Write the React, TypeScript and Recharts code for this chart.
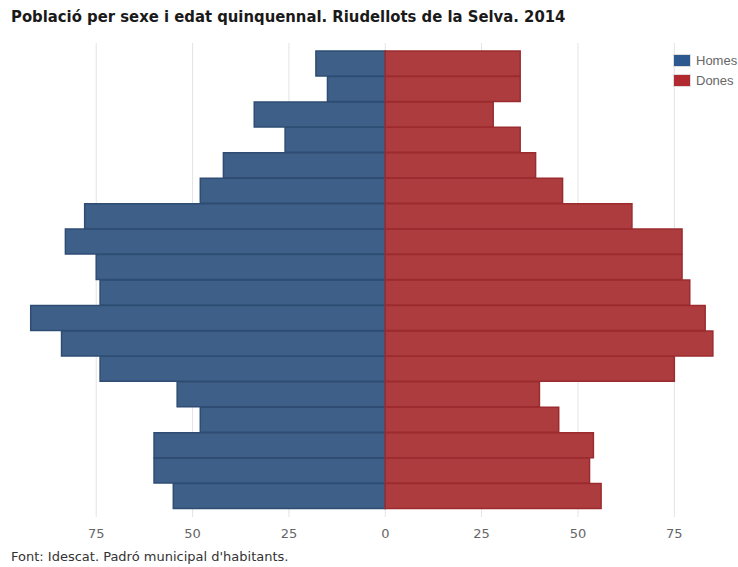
import React from 'react';
import { BarChart, Bar, XAxis, YAxis, CartesianGrid } from 'recharts';

// age groups, bottom to top
const AGES = [
  '0-4', '5-9', '10-14', '15-19', '20-24', '25-29', '30-34', '35-39', '40-44',
  '45-49', '50-54', '55-59', '60-64', '65-69', '70-74', '75-79', '80-84', '85+',
];
const HOMES = [55, 60, 60, 48, 54, 74, 84, 92, 74, 75, 83, 78, 48, 42, 26, 34, 15, 18];
const DONES = [56, 53, 54, 45, 40, 75, 85, 83, 79, 77, 77, 64, 46, 39, 35, 28, 35, 35];
const TICKS = [-75, -50, -25, 0, 25, 50, 75];

const BLUE = '#3e5f88';
const BLUE_EDGE = '#2f4d73';
const RED = '#ad3c3f';
const RED_EDGE = '#9c2b2f';

const data = AGES.map((age, i) => ({ age, homes: -HOMES[i], dones: DONES[i] }));

const FONT = '"DejaVu Sans", Verdana, sans-serif';

function LegendBox() {
  const items = [
    { label: 'Homes', color: '#2d5a8e' },
    { label: 'Dones', color: '#b02a2f' },
  ];
  return (
    <div
      style={{
        position: 'absolute',
        left: 673,
        top: 50,
        fontFamily: '"Liberation Sans", Arial, sans-serif',
        fontSize: 13,
        color: '#666',
      }}
    >
      {items.map((it) => (
        <div key={it.label} style={{ display: 'flex', alignItems: 'center', height: 20 }}>
          <span
            style={{
              width: 16,
              height: 11,
              background: it.color,
              border: '1px solid #ddd',
              marginRight: 5,
              display: 'inline-block',
            }}
          />
          <span>{it.label}</span>
        </div>
      ))}
    </div>
  );
}

export default function App() {
  return (
    <div style={{ position: 'absolute', left: 0, top: 0, width: 738, height: 567, background: '#fff' }}>
      <div
        style={{
          position: 'absolute',
          left: 11,
          top: 7,
          fontFamily: '"DejaVu Sans Condensed", "DejaVu Sans", sans-serif',
          fontStretch: 'condensed',
          fontWeight: 'bold',
          fontSize: 16.5,
          color: '#1a1a1a',
        }}
      >
        Població per sexe i edat quinquennal. Riudellots de la Selva. 2014
      </div>
      <BarChart
        width={738}
        height={567}
        data={data}
        layout="vertical"
        stackOffset="sign"
        barCategoryGap={0}
        margin={{ top: 43, right: 2, bottom: 20, left: 23 }}
      >
        <CartesianGrid horizontal={false} stroke="#e3e3e3" syncWithTicks />
        <XAxis
          type="number"
          domain={[-94, 91]}
          ticks={TICKS}
          tickFormatter={(v: number) => String(Math.abs(v))}
          axisLine={false}
          tickLine={false}
          tick={{ fill: '#666', fontSize: 13, fontFamily: FONT }}
          tickMargin={6}
          height={30}
        />
        <YAxis type="category" dataKey="age" hide reversed padding={{ top: 8, bottom: 8 }} />
        <Bar dataKey="homes" stackId="s" fill={BLUE} stroke={BLUE_EDGE} strokeWidth={1.5} isAnimationActive={false} />
        <Bar dataKey="dones" stackId="s" fill={RED} stroke={RED_EDGE} strokeWidth={1.5} isAnimationActive={false} />
      </BarChart>
      <LegendBox />
      <div
        style={{
          position: 'absolute',
          left: 11,
          top: 549,
          fontFamily: FONT,
          fontSize: 13,
          color: '#333',
        }}
      >
        Font: Idescat. Padró municipal d'habitants.
      </div>
    </div>
  );
}
